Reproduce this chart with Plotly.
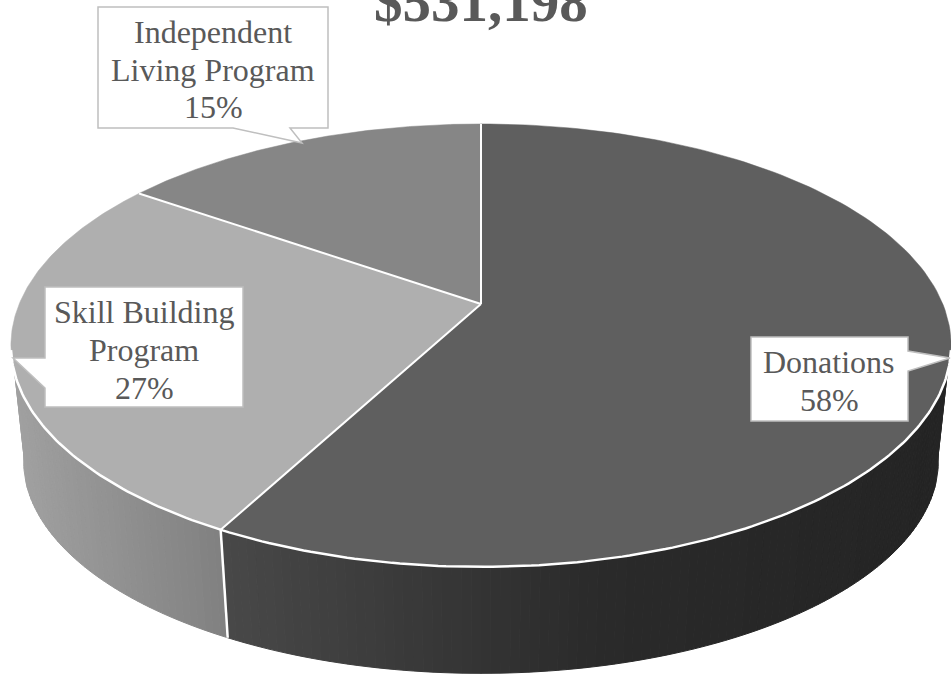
import numpy as np
import plotly.graph_objects as go

# Data
categories = ["Donations", "Skill Building Program", "Independent Living Program"]
shares = [57.8, 26.9, 15.3]
shown_labels = ["58%", "27%", "15%"]
total_label = "$531,198"

top_colors = ["#5f5f5f", "#afafaf", "#868686"]

# Perspective projection of the disc into the pixel-sized plot area
W, H = 951, 677
CX, CY = 481, 304
A, B, K = 461.8, 213.7, 0.187
S_BOTTOM, T_BOTTOM, Y0_BOTTOM = 0.973, 0.96, 421


def top_ring(deg):
    t = np.radians(deg)
    X, Y = np.sin(t), np.cos(t)
    d = 1 + K * Y
    return CX + A * X / d, CY - B * Y / d


def bottom_ring(deg):
    t = np.radians(deg)
    X, Y = np.sin(t), np.cos(t)
    d = 1 + K * Y
    return CX + S_BOTTOM * A * X / d, Y0_BOTTOM - T_BOTTOM * B * Y / d


def lerp_gray(x, stops):
    xs, vs = zip(*stops)
    v = int(round(np.interp(x, xs, vs)))
    return f"rgb({v},{v},{v})"


fig = go.Figure()


def poly(xs, ys, fill, line_color=None, width=1):
    fig.add_trace(go.Scatter(
        x=list(xs), y=list(ys), mode="lines", fill="toself", fillcolor=fill,
        line=dict(color=line_color or fill, width=width),
        hoverinfo="skip", showlegend=False))


def stroke(xs, ys, color="#ffffff", width=2.5):
    fig.add_trace(go.Scatter(
        x=list(xs), y=list(ys), mode="lines", line=dict(color=color, width=width),
        hoverinfo="skip", showlegend=False))


# Slice angles from the data
edges = np.concatenate([[0], np.cumsum(shares)]) / sum(shares) * 360
seam = edges[1]

# Side wall
VIS_START, VIS_END = 108.0, 252.0
BOT_START, BOT_END = 99.0, 261.0
left_gray = [(20, 160), (228, 128)]
right_gray = [(228, 72), (600, 42), (940, 36)]

grid = np.arange(VIS_START, VIS_END, 1.0)
grid = np.unique(np.concatenate([grid, [VIS_END, seam]]))
for a0, a1 in zip(grid[:-1], grid[1:]):
    tx, ty = top_ring(np.array([a0, a1]))
    bx, by = bottom_ring(np.array([a1, a0]))
    mx = (tx.mean() + bx.mean()) / 2
    color = lerp_gray(mx, right_gray if a1 <= seam else left_gray)
    poly(np.r_[tx, bx, tx[0]], np.r_[ty, by, ty[0]], color)

# End caps of the wall out to the silhouette
for start, stop, gray in [(VIS_START, BOT_START, 38), (VIS_END, BOT_END, 160)]:
    arc = np.linspace(start, stop, 12)
    bx, by = bottom_ring(arc)
    tx, ty = top_ring(start)
    poly(np.r_[tx, bx, tx], np.r_[ty, by, ty], f"rgb({gray},{gray},{gray})")

# Top face slices
for i in range(len(shares)):
    arc = np.linspace(edges[i], edges[i + 1], 160)
    ax, ay = top_ring(arc)
    poly(np.r_[CX, ax, CX], np.r_[CY, ay, CY], top_colors[i], top_colors[i], 0.5)

# White slice borders
for e in edges[:-1]:
    ex, ey = top_ring(e)
    stroke([CX, ex], [CY, ey], width=2)

# White front rim and seam
rim = np.linspace(VIS_START - 6, VIS_END + 6, 200)
rx, ry = top_ring(rim)
stroke(rx, ry)
sx0, sy0 = top_ring(seam)
sx1, sy1 = bottom_ring(seam)
stroke([sx0, sx1], [sy0, sy1])

# Callouts (pixel coordinates of the page)
callouts = [
    dict(path="M98,7 L328,7 L328,128 L290,128 L302,143 L233,128 L98,128 Z",
         cx=213, lines_y=[32, 70, 107], lines=["Independent", "Living Program", shown_labels[2]]),
    dict(path="M45,287 L243,287 L243,407 L45,407 L45,388 L13,358 L45,358 Z",
         cx=144, lines_y=[312, 350, 388], lines=["Skill Building", "Program", shown_labels[1]]),
    dict(path="M751,337 L908,337 L908,351 L950,358 L908,371 L908,421 L751,421 Z",
         cx=829, lines_y=[362, 400], lines=["Donations", shown_labels[0]]),
]
shapes, annotations = [], []
FONT = "Liberation Serif"
for c in callouts:
    shapes.append(dict(type="path", path=c["path"], xref="x", yref="y",
                       fillcolor="#ffffff", line=dict(color="#bfbfbf", width=1.5),
                       layer="above"))
    for line, ly in zip(c["lines"], c["lines_y"]):
        annotations.append(dict(x=c["cx"], y=ly, xref="x", yref="y",
                                text=line, showarrow=False, align="center",
                                xanchor="center", yanchor="middle",
                                font=dict(family=FONT, size=32, color="#595959")))

annotations.append(dict(x=481, y=1, xref="x", yref="y", text=f"<b>{total_label}</b>",
                        showarrow=False, xanchor="center", yanchor="middle",
                        font=dict(family=FONT, size=57, color="#595959")))

fig.update_layout(
    width=W, height=H, margin=dict(l=0, r=0, t=0, b=0),
    paper_bgcolor="#ffffff", plot_bgcolor="#ffffff",
    xaxis=dict(range=[0, W], visible=False, fixedrange=True),
    yaxis=dict(range=[H, 0], visible=False, fixedrange=True),
    shapes=shapes, annotations=annotations, showlegend=False,
)
fig.write_html("out.html", config={"displayModeBar": False},
               post_script="document.body.style.margin='0';document.body.style.overflow='hidden';")
